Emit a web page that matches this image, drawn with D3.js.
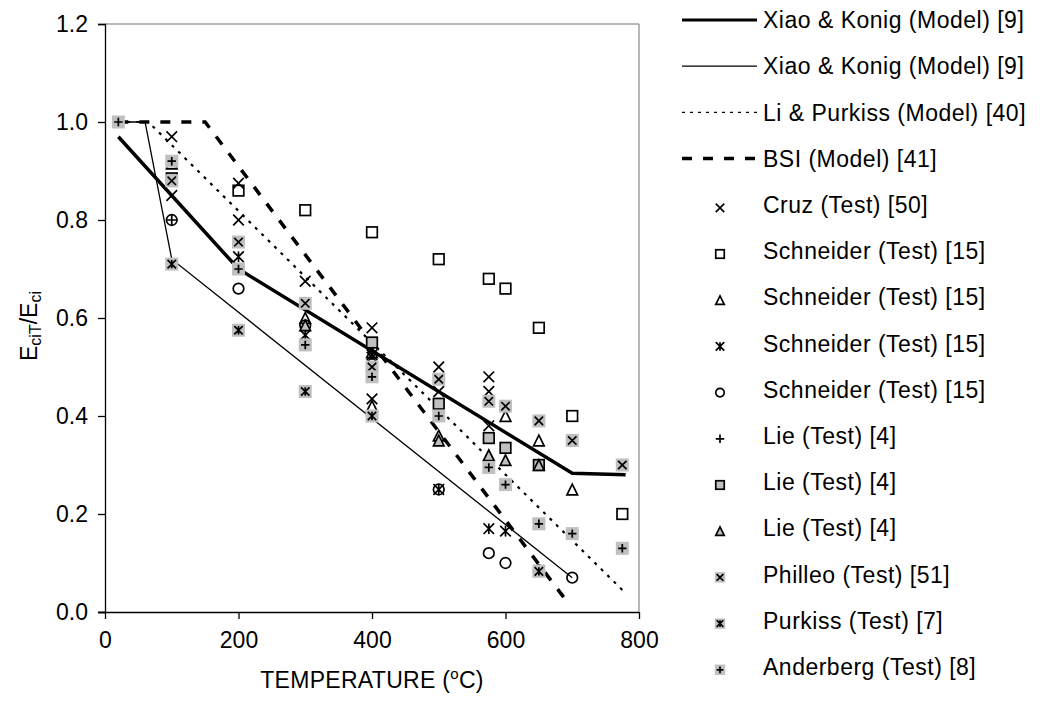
<!DOCTYPE html>
<html><head><meta charset="utf-8">
<script src="https://cdnjs.cloudflare.com/ajax/libs/d3/7.8.5/d3.min.js"></script>
<style>body{margin:0;background:#fff}svg{display:block}text{font-family:"Liberation Sans",Arial,sans-serif;fill:#000}</style>
</head><body><svg id="c" width="1041" height="709"></svg>
<script>
// ---- data ----
const xTicks = [0, 200, 400, 600, 800];
const yTicks = [0, 0.2, 0.4, 0.6, 0.8, 1.0, 1.2];

const xiaoThick = [[20, 0.97], [200, 0.70], [700, 0.283], [780, 0.28]];
const xiaoThin = [[20, 1.0], [60, 1.0], [100, 0.72], [700, 0.07]];
const liPurkiss = [[20, 1.0], [65, 1.0], [775, 0.045]];
const bsi = [[20, 1.0], [150, 1.0], [690, 0.025]];

const cruz = [[100, 0.97], [100, 0.85], [200, 0.875], [200, 0.80], [300, 0.675], [400, 0.58], [400, 0.52], [400, 0.435], [500, 0.50], [500, 0.45], [575, 0.48], [575, 0.45], [575, 0.38]];
const schSquare = [[200, 0.86], [300, 0.82], [400, 0.775], [500, 0.72], [575, 0.68], [600, 0.66], [650, 0.58], [700, 0.40], [775, 0.20]];
const schTriangle = [[100, 0.915], [300, 0.60], [400, 0.53], [400, 0.42], [500, 0.36], [600, 0.40], [650, 0.35], [700, 0.25]];
const schStar = [[200, 0.725], [300, 0.565], [400, 0.525], [500, 0.25], [575, 0.17], [600, 0.165], [650, 0.085]];
const schCircle = [[100, 0.80], [200, 0.66], [300, 0.585], [500, 0.25], [575, 0.12], [600, 0.10], [650, 0.085], [700, 0.07]];
const liePlus = [[100, 0.80]];
const lieSquare = [[100, 0.885], [400, 0.55], [500, 0.425], [575, 0.355], [600, 0.335], [650, 0.30]];
const lieTriangle = [[300, 0.585], [500, 0.35], [575, 0.32], [600, 0.31], [650, 0.30]];
const philleo = [[100, 0.88], [200, 0.755], [300, 0.63], [400, 0.50], [500, 0.475], [575, 0.43], [600, 0.42], [650, 0.39], [700, 0.35], [775, 0.30]];
const purkiss = [[100, 0.71], [200, 0.575], [300, 0.45], [400, 0.40], [650, 0.083]];
const anderberg = [[20, 1.0], [100, 0.92], [200, 0.70], [300, 0.545], [400, 0.48], [500, 0.40], [575, 0.295], [600, 0.26], [650, 0.18], [700, 0.16], [775, 0.13]];

const lineSeries = [
  {name: "Xiao & Konig (Model) [9]", data: xiaoThick, w: 3.5, dash: null, lw: 3, ldash: null},
  {name: "Xiao & Konig (Model) [9]", data: xiaoThin, w: 1.3, dash: null, lw: 1.3, ldash: null},
  {name: "Li & Purkiss (Model) [40]", data: liPurkiss, w: 2.2, dash: "3,6", lw: 1.3, ldash: "3,5"},
  {name: "BSI (Model) [41]", data: bsi, w: 3.5, dash: "10,11", lw: 3.5, ldash: "10,11"}
];
const pointSeries = [
  {name: "Cruz (Test) [50]", data: cruz, m: "cross", bg: false},
  {name: "Schneider (Test) [15]", data: schSquare, m: "square", bg: false},
  {name: "Schneider (Test) [15]", data: schTriangle, m: "triangle", bg: false},
  {name: "Schneider (Test) [15]", data: schStar, m: "star", bg: false},
  {name: "Schneider (Test) [15]", data: schCircle, m: "circle", bg: false},
  {name: "Lie (Test) [4]", data: liePlus, m: "plus", bg: false},
  {name: "Lie (Test) [4]", data: lieSquare, m: "graysquare", bg: false},
  {name: "Lie (Test) [4]", data: lieTriangle, m: "graytriangle", bg: false},
  {name: "Philleo (Test) [51]", data: philleo, m: "cross", bg: true},
  {name: "Purkiss (Test) [7]", data: purkiss, m: "star", bg: true},
  {name: "Anderberg (Test) [8]", data: anderberg, m: "plus", bg: true}
];

// ---- drawing ----
const svg = d3.select("#c");
const x = d3.scaleLinear().domain([0, 800]).range([105, 639]);
const y = d3.scaleLinear().domain([0, 1.2]).range([612, 24]);
const GRAY = "#c0c0c0";
const FS = "23px";

// plot frame (top & right gray)
svg.append("line").attr("x1", x(0)).attr("x2", x(800)).attr("y1", y(1.2)).attr("y2", y(1.2)).attr("stroke", "#a0a0a0").attr("stroke-width", 1.5);
svg.append("line").attr("x1", x(800)).attr("x2", x(800)).attr("y1", y(1.2)).attr("y2", y(0)).attr("stroke", "#a0a0a0").attr("stroke-width", 1.5);

const xAxis = svg.append("g").attr("transform", `translate(0,${y(0)})`)
  .call(d3.axisBottom(x).tickValues(xTicks).tickSize(7).tickPadding(13).tickFormat(d3.format("d")));
const yAxis = svg.append("g").attr("transform", `translate(${x(0)},0)`)
  .call(d3.axisLeft(y).tickValues(yTicks).tickSize(7).tickPadding(10).tickFormat(d3.format(".1f")));
[xAxis, yAxis].forEach(a => {
  a.select(".domain").attr("stroke", "#000").attr("stroke-width", 1.3);
  a.selectAll(".tick line").attr("stroke", "#000").attr("stroke-width", 1.3);
  a.selectAll("text").style("font-size", FS).style("font-family", '"Liberation Sans",Arial,sans-serif');
});
xAxis.select(".domain").attr("d", `M${x(0)-7},0.5H${x(800)}`);

// axis titles
const xt = svg.append("text").attr("x", 372).attr("y", 688).attr("text-anchor", "middle").style("font-size", FS).style("letter-spacing", "0.3px");
xt.append("tspan").text("TEMPERATURE (");
xt.append("tspan").text("o").attr("dy", -9).style("font-size", "15px");
xt.append("tspan").text("C)").attr("dy", 9);
const yt = svg.append("text").attr("transform", "translate(37,326) rotate(-90)").attr("text-anchor", "middle").style("font-size", FS);
yt.append("tspan").text("E");
yt.append("tspan").text("ciT").attr("dy", 4).style("font-size", "16px");
yt.append("tspan").text("/E").attr("dy", -4);
yt.append("tspan").text("ci").attr("dy", 4).style("font-size", "16px");

// lines
const line = d3.line().x(d => x(d[0])).y(d => y(d[1]));
lineSeries.forEach(s => {
  svg.append("path").datum(s.data).attr("d", line).attr("fill", "none").attr("stroke", "#000")
    .attr("stroke-width", s.w).attr("stroke-dasharray", s.dash);
});

// markers
function drawMarker(g, m, bg, sc) {
  const k = sc || 1;
  if (bg) {
    g.append("rect").attr("x", -6.5 * k).attr("y", -6.5 * k).attr("width", 13 * k).attr("height", 13 * k).attr("fill", GRAY);
  }
  const s = (bg ? 4.2 : 5.3) * k;
  const st = {stroke: "#000", "stroke-width": 1.7, fill: "none"};
  const ap = (el) => { Object.entries(st).forEach(([a, v]) => el.attr(a, v)); return el; };
  if (m === "cross") ap(g.append("path").attr("d", `M${-s},${-s}L${s},${s}M${-s},${s}L${s},${-s}`));
  else if (m === "plus") ap(g.append("path").attr("d", `M${-s},0L${s},0M0,${-s}L0,${s}`));
  else if (m === "star") ap(g.append("path").attr("d", `M${-s},${-s}L${s},${s}M${-s},${s}L${s},${-s}M0,${-s}L0,${s}`));
  else if (m === "square") ap(g.append("rect").attr("x", -s).attr("y", -s).attr("width", 2 * s).attr("height", 2 * s));
  else if (m === "graysquare") ap(g.append("rect").attr("x", -s).attr("y", -s).attr("width", 2 * s).attr("height", 2 * s)).attr("fill", GRAY);
  else if (m === "circle") ap(g.append("circle").attr("r", s));
  else if (m === "triangle") ap(g.append("path").attr("d", `M0,${-s}L${s},${s}L${-s},${s}Z`));
  else if (m === "graytriangle") ap(g.append("path").attr("d", `M0,${-s}L${s},${s}L${-s},${s}Z`)).attr("fill", GRAY);
}
pointSeries.forEach(s => {
  svg.append("g").selectAll("g").data(s.data).join("g")
    .attr("transform", d => `translate(${x(d[0])},${y(d[1])})`)
    .each(function () { drawMarker(d3.select(this), s.m, s.bg); });
});

// legend
const legY = i => 20 + i * 46.2;
const leg = svg.append("g");
lineSeries.forEach((s, i) => {
  leg.append("line").attr("x1", 682).attr("x2", 757).attr("y1", legY(i)).attr("y2", legY(i))
    .attr("stroke", "#000").attr("stroke-width", s.lw).attr("stroke-dasharray", s.ldash);
  leg.append("text").attr("x", 763).attr("y", legY(i)).attr("dy", "0.36em").style("font-size", FS).style("letter-spacing", "0.5px").text(s.name);
});
pointSeries.forEach((s, j) => {
  const i = j + 4;
  const g = leg.append("g").attr("transform", `translate(720,${legY(i) + 3})`);
  drawMarker(g, s.m, s.bg, 0.8);
  leg.append("text").attr("x", 763).attr("y", legY(i)).attr("dy", "0.36em").style("font-size", FS).style("letter-spacing", "0.5px").text(s.name);
});
</script></body></html>
